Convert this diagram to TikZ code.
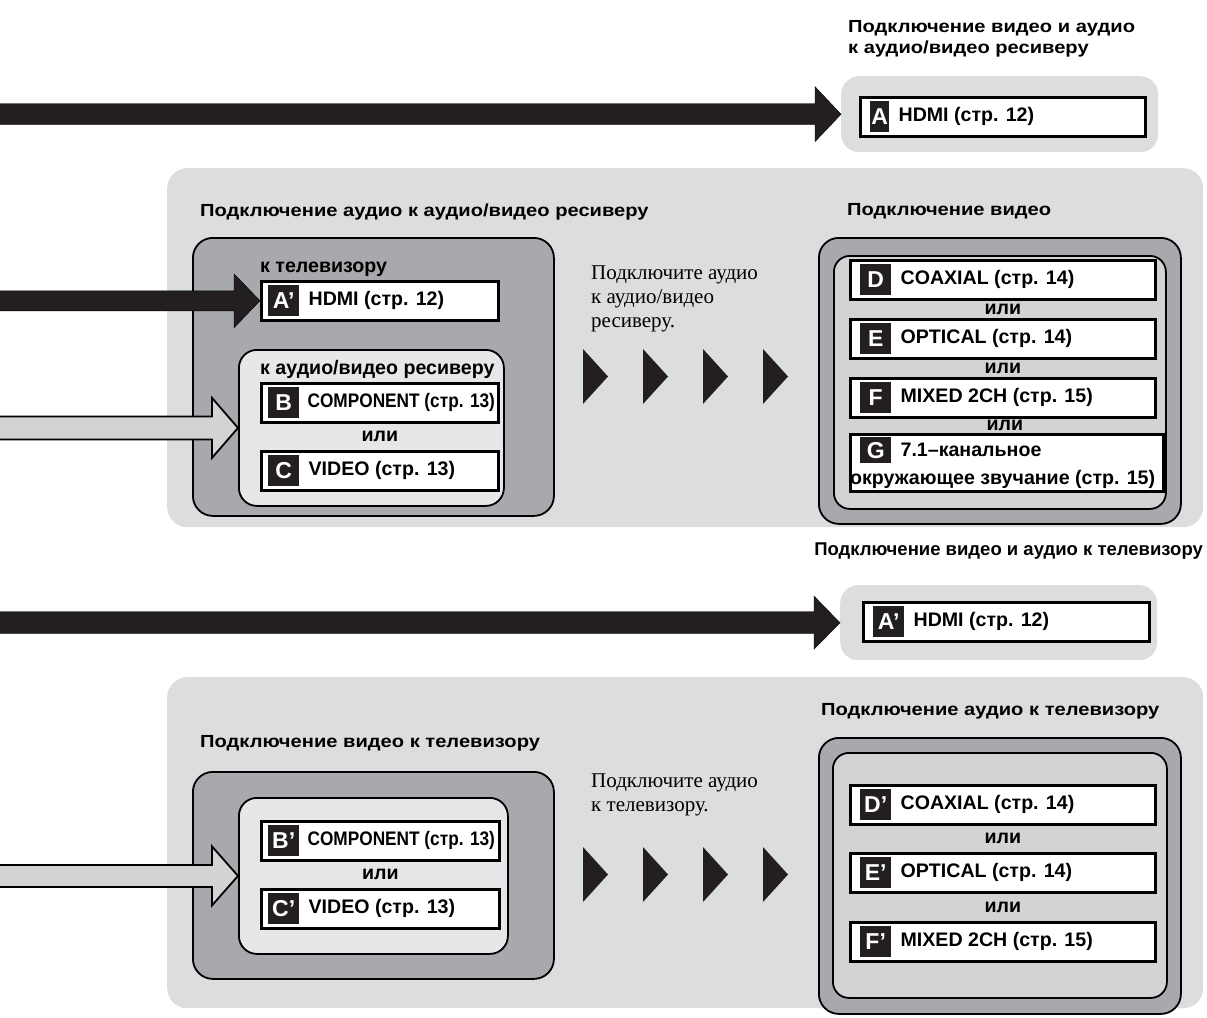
\documentclass[tikz,border=0pt]{standalone}
\usepackage{fontspec}
\setmainfont{Liberation Serif}
\setsansfont{Liberation Sans}
\newfontfamily\narrowsf[FakeStretch=0.88]{Liberation Sans}
\newfontfamily\widesf[FakeStretch=1.15]{Liberation Sans}
\usetikzlibrary{calc}
\usetikzlibrary{positioning}

\definecolor{panelgray}{HTML}{DCDDDF}
\definecolor{boxdark}{HTML}{A7A9AC}
\definecolor{boxlight}{HTML}{E6E7E8}
\definecolor{boxmid}{HTML}{D1D3D4}
\definecolor{arrowblack}{HTML}{231F20}

% fat arrow from the left edge to a tip point
\newcommand{\fatarrow}[4]{%
  \filldraw[#1] ($(lft |- #2)+(0,-#3)$) -- ($(#2)+(-26,-#3)$) -- ($(#2)+(-26,-#4)$)
    -- (#2) -- ($(#2)+(-26,#4)$) -- ($(#2)+(-26,#3)$) -- ($(lft |- #2)+(0,#3)$) -- cycle;}

\begin{document}
\begin{tikzpicture}[x=1pt, y=-1pt,
    panel/.style={fill=panelgray, rounded corners=18pt, anchor=north west, inner sep=0pt},
    darkbox/.style={fill=boxdark, draw=black, line width=1.8pt, rounded corners=20pt, anchor=north west, inner sep=0pt},
    lightbox/.style={fill=boxlight, draw=black, line width=1.8pt, rounded corners=18pt, anchor=north west, inner sep=0pt},
    innerbox/.style={fill=boxmid, draw=black, line width=1.8pt, rounded corners=16pt, anchor=north west, inner sep=0pt},
    entry/.style={fill=white, draw=black, line width=2.6pt, minimum height=39pt, anchor=north west, inner sep=0pt},
    tag/.style={fill=arrowblack, text=white, minimum width=31pt, minimum height=31pt, inner sep=0pt,
      font=\sffamily\bfseries\fontsize{23}{23}\selectfont},
    entrytext/.style={inner sep=0pt, font=\sffamily\bfseries\fontsize{19.6}{22}\selectfont},
    subhead/.style={inner sep=0pt, font=\sffamily\bfseries\fontsize{19.6}{22}\selectfont},
    ortext/.style={inner sep=0pt, font=\sffamily\bfseries\fontsize{19.6}{22}\selectfont},
    heading/.style={inner sep=0pt, font=\widesf\bfseries\fontsize{17.5}{21}\selectfont},
    note/.style={inner sep=0pt, align=left, anchor=north west, font=\rmfamily\fontsize{21}{24}\selectfont},
    blackarrow/.style={fill=arrowblack},
    grayarrow/.style={fill=boxmid, draw=black, line width=1.8pt}]
  \useasboundingbox (0,0) rectangle (1207,1017);
  \coordinate (lft) at (-5,0); % arrows start off the left edge

  % HDMI to the receiver
  \node[heading, align=left, anchor=north west] (hdAV) at (848,20) {Подключение видео и аудио\\к аудио/видео ресиверу};
  \node[panel, minimum width=317pt, minimum height=76pt] (panA) at (841,76) {};
  \node[entry, minimum width=285pt] (boxA) at (859,96) {};
  \node[tag, minimum width=19pt, right=11pt of boxA.west] (tagA) {A};
  \node[entrytext, right=9pt of tagA] {HDMI (стр. 12)};
  \fatarrow{blackarrow}{panA.west}{10.5}{27.5}

  % audio to the receiver, video to the TV
  \node[panel, rounded corners=20pt, minimum width=1036pt, minimum height=359pt] (panMid) at (167,168) {};
  \node[heading, anchor=base west] (hdAud) at (200,216) {Подключение аудио к аудио/видео ресиверу};
  \node[heading, anchor=base west] (hdVid) at (847,215) {Подключение видео};

  \node[darkbox, minimum width=361pt, minimum height=278pt] (recvL) at (192,237) {};
  \node[subhead, anchor=base west] (hdTv) at (260,272) {к телевизору};
  \node[entry, minimum width=237pt] (boxApr) at (260,280) {};
  \node[tag, right=8pt of boxApr.west] (tagApr) {A’};
  \node[entrytext, right=9pt of tagApr] {HDMI (стр. 12)};
  \node[lightbox, minimum width=265pt, minimum height=156pt] (avrL) at (238,349) {};
  \node[subhead, anchor=base west] (hdAvr) at (260,374) {к аудио/видео ресиверу};
  \node[entry, minimum width=237pt] (boxB) at (260,382) {};
  \node[tag, right=8pt of boxB.west] (tagB) {B};
  \node[entrytext, font=\narrowsf\bfseries\fontsize{19.6}{22}\selectfont, right=8pt of tagB] {COMPONENT (стр. 13)};
  \node[entry, minimum width=237pt] (boxC) at (260,450) {};
  \node[tag, right=8pt of boxC.west] (tagC) {C};
  \node[entrytext, right=9pt of tagC] {VIDEO (стр. 13)};
  \node[ortext] at ($(boxB.south)!.5!(boxC.north)$) {или};
  \fatarrow{blackarrow}{boxApr.west}{10}{27}
  \fatarrow{grayarrow}{avrL.west}{11.5}{30}

  \node[note] (noteAvr) at (591,265.5) {Подключите аудио\\к аудио/видео\\ресиверу.};
  \foreach \x in {583,643,703,763} {
    \fill[arrowblack] (\x,349) -- ++(25,27.5) -- ++(-25,27.5) -- cycle; % chevron
  }

  \node[darkbox, minimum width=362pt, minimum height=286pt] (vidR) at (818,237) {};
  \node[innerbox, minimum width=332pt, minimum height=253pt] (vidRin) at (833,255) {};
  \node[entry, minimum width=305pt] (boxD) at (849,259) {};
  \node[tag, right=11pt of boxD.west] (tagD) {D};
  \node[entrytext, right=9pt of tagD] {COAXIAL (стр. 14)};
  \node[entry, minimum width=305pt] (boxE) at (849,318) {};
  \node[tag, right=11pt of boxE.west] (tagE) {E};
  \node[entrytext, right=9pt of tagE] {OPTICAL (стр. 14)};
  \node[entry, minimum width=305pt] (boxF) at (849,377) {};
  \node[tag, right=11pt of boxF.west] (tagF) {F};
  \node[entrytext, right=9pt of tagF] {MIXED 2CH (стр. 15)};
  \node[entry, minimum width=313pt, minimum height=57pt] (boxG) at (849,433) {};
  \node[tag, minimum height=26pt, anchor=north west] (tagG) at ($(boxG.north west)+(11,4)$) {G};
  \node[entrytext, right=9pt of tagG] {7.1–канальное};
  \node[entrytext, anchor=base west] at ($(boxG.south west)+(1,-8)$) {окружающее звучание (стр. 15)};
  \node[ortext] at ($(boxD.south)!.5!(boxE.north)$) {или};
  \node[ortext] at ($(boxE.south)!.5!(boxF.north)$) {или};
  \node[ortext] at ($(boxF.south)!.5!(boxG.north)$) {или};

  % HDMI to the TV
  \node[heading, font=\sffamily\bfseries\fontsize{18.5}{21}\selectfont, anchor=base east] (hdTvAV) at (1203,555) {Подключение видео и аудио к телевизору};
  \node[panel, minimum width=317pt, minimum height=75pt] (panB) at (840,585) {};
  \node[entry, minimum width=286pt] (boxAtv) at (862,601) {};
  \node[tag, right=11pt of boxAtv.west] (tagAtv) {A’};
  \node[entrytext, right=9pt of tagAtv] {HDMI (стр. 12)};
  \fatarrow{blackarrow}{panB.west}{11}{26.5}

  % video to the TV, audio to the TV
  \node[panel, rounded corners=20pt, minimum width=1036pt, minimum height=331pt] (panBot) at (167,677) {};
  \node[heading, anchor=base west] (hdTvVid) at (200,747) {Подключение видео к телевизору};
  \node[heading, anchor=base west] (hdTvAud) at (821,715) {Подключение аудио к телевизору};

  \node[darkbox, minimum width=361pt, minimum height=207pt] (tvL) at (192,771) {};
  \node[lightbox, minimum width=269pt, minimum height=156pt] (tvLin) at (238,797) {};
  \node[entry, minimum width=238pt] (boxBpr) at (260,820) {};
  \node[tag, right=8pt of boxBpr.west] (tagBpr) {B’};
  \node[entrytext, font=\narrowsf\bfseries\fontsize{19.6}{22}\selectfont, right=8pt of tagBpr] {COMPONENT (стр. 13)};
  \node[entry, minimum width=238pt] (boxCpr) at (260,888) {};
  \node[tag, right=8pt of boxCpr.west] (tagCpr) {C’};
  \node[entrytext, right=9pt of tagCpr] {VIDEO (стр. 13)};
  \node[ortext] at ($(boxBpr.south)!.5!(boxCpr.north)$) {или};
  \fatarrow{grayarrow}{tvLin.west}{11}{29.5}

  \node[note] (noteTv) at (591,773.5) {Подключите аудио\\к телевизору.};
  \foreach \x in {583,643,703,763} {
    \fill[arrowblack] (\x,847) -- ++(25,27.5) -- ++(-25,27.5) -- cycle; % chevron
  }

  \node[darkbox, minimum width=362pt, minimum height=276pt] (tvR) at (818,737) {};
  \node[innerbox, minimum width=334pt, minimum height=245pt] (tvRin) at (832,752) {};
  \node[entry, minimum width=305pt] (boxDpr) at (849,784) {};
  \node[tag, right=11pt of boxDpr.west] (tagDpr) {D’};
  \node[entrytext, right=9pt of tagDpr] {COAXIAL (стр. 14)};
  \node[entry, minimum width=305pt] (boxEpr) at (849,852) {};
  \node[tag, right=11pt of boxEpr.west] (tagEpr) {E’};
  \node[entrytext, right=9pt of tagEpr] {OPTICAL (стр. 14)};
  \node[entry, minimum width=305pt] (boxFpr) at (849,921) {};
  \node[tag, right=11pt of boxFpr.west] (tagFpr) {F’};
  \node[entrytext, right=9pt of tagFpr] {MIXED 2CH (стр. 15)};
  \node[ortext] at ($(boxDpr.south)!.5!(boxEpr.north)$) {или};
  \node[ortext] at ($(boxEpr.south)!.5!(boxFpr.north)$) {или};
\end{tikzpicture}
\end{document}
